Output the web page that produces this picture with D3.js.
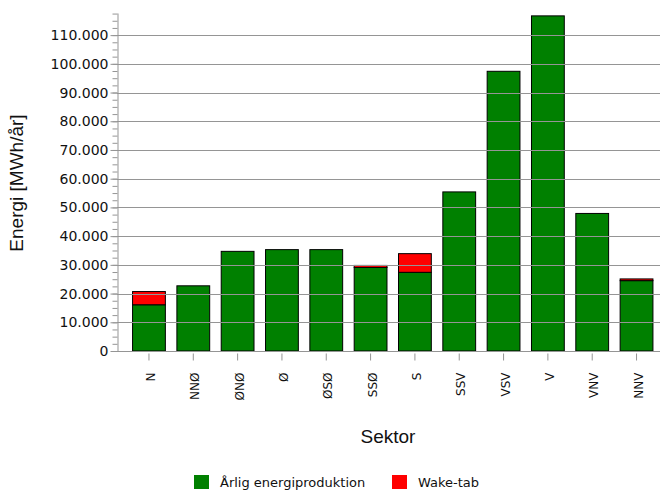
<!DOCTYPE html>
<html>
  <head>
    <meta charset="utf-8">
    <title>Energi pr. sektor</title>
    <script src="https://d3js.org/d3.v7.min.js"></script>
    <style>
      body { margin: 0; background: #fff; }
      svg { display: block; }
    </style>
  </head>
  <body>
    <svg width="660" height="490"></svg>
    <script>
      // values (MWh/år)
      var sectors = ["N", "NNØ", "ØNØ", "Ø", "ØSØ", "SSØ", "S", "SSV", "VSV", "V", "VNV", "NNV"];
      var production = [16100, 22700, 34700, 35300, 35300, 29100, 27400, 55400, 97400, 116700, 47900, 24500];
      var wakeLoss = [4600, 0, 0, 0, 0, 700, 6500, 0, 0, 0, 0, 600];
      var seriesNames = ["Årlig energiproduktion", "Wake-tab"];
      var seriesColors = ["#008000", "#ff0000"];
      var yTicks = [0, 10000, 20000, 30000, 40000, 50000, 60000, 70000, 80000, 90000, 100000, 110000];

      var svg = d3.select("svg");
      // plot box (note: "top" is reserved on window, so use plot* names)
      var plotLeft = 117, plotRight = 660, plotTop = 13, plotBottom = 351;

      var x = d3.scaleBand()
        .domain(sectors)
        .range([126.8, 658.7])
        .paddingInner(0.26)
        .paddingOuter(0.13);
      var y = d3.scaleLinear()
        .domain([0, 117700])
        .range([plotBottom, plotTop]);

      var fmt = function(d) { return d3.format(",")(d).replace(/,/g, "."); };

      var rows = sectors.map(function(s, i) {
        return { sector: s, prod: production[i], wake: wakeLoss[i] };
      });

      // bars
      var g = svg.append("g");
      g.selectAll("rect.prod")
        .data(rows)
        .enter().append("rect")
          .attr("class", "prod")
          .attr("x", function(d) { return x(d.sector); })
          .attr("width", x.bandwidth())
          .attr("y", function(d) { return y(d.prod); })
          .attr("height", function(d) { return y(0) - y(d.prod); })
          .attr("fill", seriesColors[0])
          .attr("stroke", "#000")
          .attr("stroke-width", 1);
      g.selectAll("rect.wake")
        .data(rows.filter(function(d) { return d.wake > 0; }))
        .enter().append("rect")
          .attr("class", "wake")
          .attr("x", function(d) { return x(d.sector); })
          .attr("width", x.bandwidth())
          .attr("y", function(d) { return y(d.prod + d.wake); })
          .attr("height", function(d) { return y(d.prod) - y(d.prod + d.wake); })
          .attr("fill", seriesColors[1])
          .attr("stroke", "#000")
          .attr("stroke-width", 1);

      // gridlines sit on top of the bars
      svg.append("g")
        .selectAll("line")
        .data(yTicks.slice(1))
        .enter().append("line")
          .attr("x1", plotLeft)
          .attr("x2", plotRight)
          .attr("y1", function(d) { return Math.round(y(d)) + 0.5; })
          .attr("y2", function(d) { return Math.round(y(d)) + 0.5; })
          .attr("stroke", "#959595")
          .attr("stroke-width", 1);

      // minor y ticks
      var yMinor = svg.append("g")
        .attr("transform", "translate(" + (plotLeft + 0.5) + ",0)")
        .call(d3.axisLeft(y).tickValues(d3.range(0, 117700, 2500)).tickSize(5).tickFormat(""));
      yMinor.select(".domain").remove();
      yMinor.selectAll("line").attr("stroke", "#959595");

      // major y axis
      var yAxis = svg.append("g")
        .attr("transform", "translate(" + (plotLeft + 0.5) + ",0)")
        .call(d3.axisLeft(y).tickValues(yTicks).tickSize(7).tickSizeOuter(0).tickPadding(2).tickFormat(fmt));
      yAxis.select(".domain").attr("stroke", "#959595");
      yAxis.selectAll("line").attr("stroke", "#959595");
      yAxis.selectAll("text")
        .attr("font-family", "DejaVu Sans")
        .attr("font-size", "14px")
        .attr("fill", "#111");

      // x axis
      var xAxis = svg.append("g")
        .attr("transform", "translate(0," + (plotBottom + 0.5) + ")")
        .call(d3.axisBottom(x).tickSize(0).tickSizeOuter(0).tickFormat(""));
      xAxis.select(".domain").attr("stroke", "#959595").attr("d", "M" + plotLeft + ",0H" + plotRight);
      xAxis.selectAll(".tick")
        .append("line")
          .attr("y1", 2)
          .attr("y2", 9)
          .attr("stroke", "#959595");
      xAxis.selectAll(".tick")
        .append("text")
          .attr("transform", "translate(2,21) rotate(-90)")
          .attr("text-anchor", "end")
          .attr("dy", "0.35em")
          .attr("font-family", "DejaVu Sans")
          .attr("font-size", "12px")
          .attr("fill", "#111")
          .text(function(d) { return d; });

      // axis titles
      svg.append("text")
        .attr("transform", "translate(23,183) rotate(-90)")
        .attr("text-anchor", "middle")
        .attr("font-family", "Liberation Sans")
        .attr("font-size", "19px")
        .attr("fill", "#111")
        .text("Energi [MWh/år]");
      svg.append("text")
        .attr("x", 388)
        .attr("y", 443)
        .attr("text-anchor", "middle")
        .attr("font-family", "Liberation Sans")
        .attr("font-size", "19px")
        .attr("fill", "#111")
        .text("Sektor");

      // legend
      var legendX = [194, 392];
      var legend = svg.append("g");
      var item = legend.selectAll("g")
        .data(seriesNames)
        .enter().append("g")
          .attr("transform", function(d, i) { return "translate(" + legendX[i] + ",475)"; });
      item.append("rect")
        .attr("width", 15)
        .attr("height", 14)
        .attr("fill", function(d, i) { return seriesColors[i]; });
      item.append("text")
        .attr("x", 26)
        .attr("y", 12)
        .attr("font-family", "DejaVu Sans")
        .attr("font-size", "13px")
        .attr("fill", "#111")
        .text(function(d) { return d; });
    </script>
  </body>
</html>
